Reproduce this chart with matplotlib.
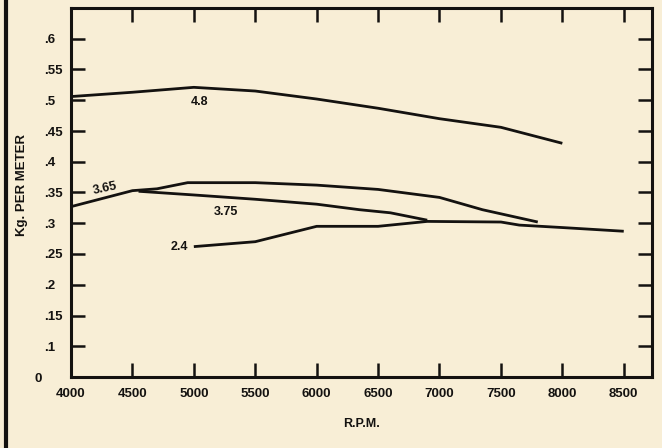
import numpy as np
import matplotlib
matplotlib.use("Agg")
import matplotlib.pyplot as plt
from matplotlib.lines import Line2D

# ===================== data =====================
rpm_48 = [4000, 4500, 5000, 5500, 6000, 6500, 7000, 7500, 8000]
kg_48 = [0.506, 0.513, 0.521, 0.515, 0.502, 0.487, 0.470, 0.456, 0.430]

rpm_365 = [4000, 4500, 4700, 4950, 5500, 6000, 6500, 7000, 7350, 7800]
kg_365 = [0.327, 0.353, 0.356, 0.366, 0.366, 0.362, 0.355, 0.342, 0.322, 0.302]

rpm_375 = [4550, 5000, 5500, 6000, 6350, 6600, 6900]
kg_375 = [0.352, 0.346, 0.339, 0.331, 0.322, 0.317, 0.305]

rpm_24 = [5000, 5500, 5900, 6000, 6500, 6900, 7500, 7650, 8000, 8500]
kg_24 = [0.262, 0.270, 0.290, 0.295, 0.295, 0.303, 0.302, 0.297, 0.293, 0.287]

x_ticks = [4000, 4500, 5000, 5500, 6000, 6500, 7000, 7500, 8000, 8500]
y_ticks = [0.05, 0.1, 0.15, 0.2, 0.25, 0.3, 0.35, 0.4, 0.45, 0.5, 0.55, 0.6]
y_labels = ["0", ".1", ".15", ".2", ".25", ".3", ".35", ".4", ".45", ".5", ".55", ".6"]

# ===================== plot =====================
bg = "#f8eed6"
ink = "#141210"
font = dict(family="Liberation Sans", weight="bold", color=ink)

fig = plt.figure(figsize=(6.62, 4.48), dpi=100, facecolor=bg)
ax = fig.add_axes([71 / 662, 71 / 448, 581 / 662, 369 / 448], facecolor=bg)

for xs, ys in [(rpm_48, kg_48), (rpm_365, kg_365), (rpm_375, kg_375), (rpm_24, kg_24)]:
    ax.plot(xs, ys, color=ink, lw=2.0, solid_joinstyle="round", solid_capstyle="butt")

ax.set_xlim(4000, 8730)
ax.set_ylim(0.05, 0.65)

ax.set_xticks(x_ticks)
ax.set_xticklabels([str(v) for v in x_ticks], fontsize=9.5, **font)
ax.set_yticks(y_ticks)
ax.set_yticklabels(y_labels, fontsize=9.5, ha="left", **font)

ax.tick_params(axis="x", direction="in", length=10, width=1.8, color=ink,
               top=True, bottom=True, pad=8)
ax.tick_params(axis="y", direction="in", length=10, width=1.8, color=ink,
               left=True, right=True, pad=19)
# the "0" sits a little further left than the others
ax.yaxis.get_major_ticks()[0].set_pad(26)

for s in ax.spines.values():
    s.set_linewidth(2.2)
    s.set_color(ink)

# curve labels
ax.text(5050, 0.497, "4.8", fontsize=9, ha="center", va="center", **font)
ax.text(4280, 0.357, "3.65", fontsize=9, ha="center", va="center", rotation=12, **font)
ax.text(5260, 0.318, "3.75", fontsize=9, ha="center", va="center", **font)
ax.text(4950, 0.262, "2.4", fontsize=9, ha="right", va="center", **font)

ax.set_xlabel("R.P.M.", fontsize=9, labelpad=13, **font)
fig.text(22 / 662, 1 - 185 / 448, "Kg. PER METER", rotation=90, fontsize=9.5,
         ha="center", va="center", **font)

# scanned page edge on the left
fig.add_artist(Line2D([6 / 662, 6 / 662], [0, 1], color=ink, lw=3, transform=fig.transFigure))

fig.savefig("out.png", dpi=100, facecolor=bg)
